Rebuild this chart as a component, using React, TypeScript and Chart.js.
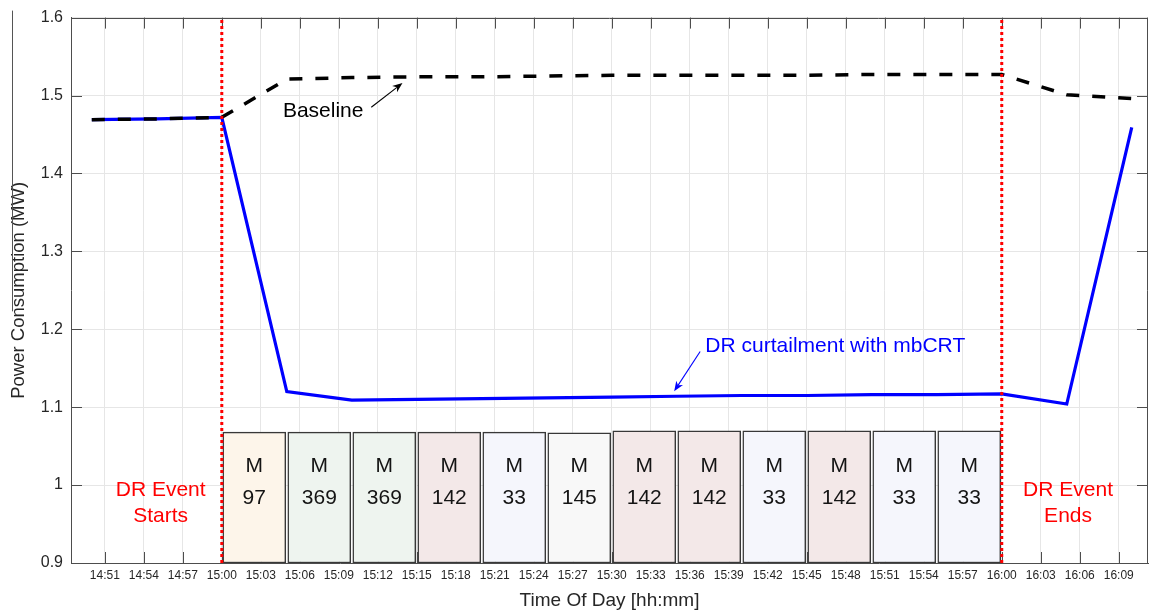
import React, { useEffect, useRef } from "react";
import { Chart, registerables } from "chart.js";

Chart.register(...registerables);

// ---- data (times in minutes since midnight) ----
const timeMinutes = [890, 895, 900, 905, 910, 915, 920, 925, 930, 935, 940, 945, 950, 955, 960, 965, 970];
const baselineMW = [1.469, 1.470, 1.472, 1.521, 1.523, 1.524, 1.524, 1.525, 1.526, 1.526, 1.526, 1.526, 1.527, 1.527, 1.527, 1.501, 1.496];
const mbcrtMW = [1.469, 1.470, 1.472, 1.120, 1.109, 1.110, 1.111, 1.112, 1.113, 1.114, 1.115, 1.115, 1.116, 1.116, 1.117, 1.104, 1.459];

const xTickMinutes = [891, 894, 897, 900, 903, 906, 909, 912, 915, 918, 921, 924, 927, 930, 933, 936, 939, 942, 945, 948, 951, 954, 957, 960, 963, 966, 969];
const yTickValues = [0.9, 1.0, 1.1, 1.2, 1.3, 1.4, 1.5, 1.6];
const xRange = [888.4, 971.25];

const drEventMinutes = [900, 960];

const boxStartMinutes = [900, 905, 910, 915, 920, 925, 930, 935, 940, 945, 950, 955];
const boxMachines = [97, 369, 369, 142, 33, 145, 142, 142, 33, 142, 33, 33];
const boxTopMW = [1.068, 1.068, 1.068, 1.068, 1.068, 1.067, 1.0695, 1.0695, 1.0695, 1.0695, 1.0695, 1.0695];
const boxMinutesWide = 5;

// annotation anchors in data units
const baselineLabel = { x: 907.8, y: 1.480, text: "Baseline" };
const baselineArrow = { x1: 911.5, y1: 1.485, x2: 913.9, y2: 1.516 };
const mbcrtLabel = { x: 937.2, y: 1.1785, text: "DR curtailment with mbCRT" };
const mbcrtArrow = { x1: 936.8, y1: 1.1715, x2: 934.8, y2: 1.1205 };
const eventStartLabel = { x: 895.3, y1: 0.993, y2: 0.960, lines: ["DR Event", "Starts"] };
const eventEndLabel = { x: 965.1, y1: 0.993, y2: 0.960, lines: ["DR Event", "Ends"] };
const boxLetterY = 1.024;
const boxNumberY = 0.983;
const titleRuleEndMW = 1.223;

// ---- styles ----
const machineColor: Record<number, string> = {
  97: "#fdf5ea",
  369: "#eef4ef",
  142: "#f3e8e8",
  33: "#f5f6fc",
  145: "#f8f8f8",
};
const FONT = "'Liberation Sans', Arial, Helvetica, sans-serif";
const AXIS = "#4d4d4d";
const TXT = "#262626";

function fmtTime(m: number) {
  const h = Math.floor(m / 60);
  const mm = Math.round(m - h * 60);
  return `${h}:${mm < 10 ? "0" + mm : mm}`;
}

function drawArrow(ctx: CanvasRenderingContext2D, x1: number, y1: number, x2: number, y2: number, color: string) {
  const ang = Math.atan2(y2 - y1, x2 - x1);
  const L = 10, W = 4, back = 7;
  ctx.save();
  ctx.strokeStyle = color;
  ctx.fillStyle = color;
  ctx.lineWidth = 1.1;
  ctx.beginPath();
  ctx.moveTo(x1, y1);
  ctx.lineTo(x2 - Math.cos(ang) * back, y2 - Math.sin(ang) * back);
  ctx.stroke();
  const bx = x2 - Math.cos(ang) * L, by = y2 - Math.sin(ang) * L;
  const nx = x2 - Math.cos(ang) * back, ny = y2 - Math.sin(ang) * back;
  ctx.beginPath();
  ctx.moveTo(x2, y2);
  ctx.lineTo(bx + Math.sin(ang) * W, by - Math.cos(ang) * W);
  ctx.lineTo(nx, ny);
  ctx.lineTo(bx - Math.sin(ang) * W, by + Math.cos(ang) * W);
  ctx.closePath();
  ctx.fill();
  ctx.restore();
}

const overlayPlugin = {
  id: "overlay",
  beforeDatasetsDraw(chart: any) {
    const { ctx, chartArea: a, scales } = chart;
    const xs = scales.x, ys = scales.y;
    ctx.save();
    ctx.strokeStyle = AXIS;
    ctx.lineWidth = 1;
    ctx.beginPath();
    xTickMinutes.forEach((t) => {
      const px = Math.round(xs.getPixelForValue(t)) + 0.5;
      ctx.moveTo(px, a.bottom);
      ctx.lineTo(px, a.bottom - 11);
      ctx.moveTo(px, a.top);
      ctx.lineTo(px, a.top + 11);
    });
    yTickValues.forEach((v) => {
      const py = Math.round(ys.getPixelForValue(v)) + 0.5;
      ctx.moveTo(a.left, py);
      ctx.lineTo(a.left + 11, py);
      ctx.moveTo(a.right, py);
      ctx.lineTo(a.right - 11, py);
    });
    ctx.stroke();
    ctx.restore();
  },
  afterDatasetsDraw(chart: any) {
    const { ctx, scales } = chart;
    const xs = scales.x, ys = scales.y;
    ctx.save();
    ctx.textAlign = "center";
    ctx.textBaseline = "middle";
    ctx.font = `21px ${FONT}`;
    // box labels
    const barMeta = chart.getDatasetMeta(0);
    barMeta.data.forEach((bar: any, i: number) => {
      ctx.fillStyle = "#141414";
      ctx.fillText("M", bar.x, ys.getPixelForValue(boxLetterY));
      ctx.fillText(String(boxMachines[i]), bar.x, ys.getPixelForValue(boxNumberY));
    });
    // event labels
    ctx.fillStyle = "#ff0000";
    [eventStartLabel, eventEndLabel].forEach((l) => {
      const px = xs.getPixelForValue(l.x);
      ctx.fillText(l.lines[0], px, ys.getPixelForValue(l.y1));
      ctx.fillText(l.lines[1], px, ys.getPixelForValue(l.y2));
    });
    // baseline annotation
    ctx.fillStyle = "#000000";
    ctx.fillText(baselineLabel.text, xs.getPixelForValue(baselineLabel.x), ys.getPixelForValue(baselineLabel.y));
    drawArrow(ctx,
      xs.getPixelForValue(baselineArrow.x1), ys.getPixelForValue(baselineArrow.y1),
      xs.getPixelForValue(baselineArrow.x2), ys.getPixelForValue(baselineArrow.y2), "#000000");
    // mbCRT annotation
    ctx.fillStyle = "#0000ff";
    ctx.textAlign = "left";
    ctx.fillText(mbcrtLabel.text, xs.getPixelForValue(mbcrtLabel.x), ys.getPixelForValue(mbcrtLabel.y));
    drawArrow(ctx,
      xs.getPixelForValue(mbcrtArrow.x1), ys.getPixelForValue(mbcrtArrow.y1),
      xs.getPixelForValue(mbcrtArrow.x2), ys.getPixelForValue(mbcrtArrow.y2), "#0000ff");
    ctx.restore();
  },
  afterDraw(chart: any) {
    const { ctx, chartArea: a } = chart;
    ctx.save();
    ctx.strokeStyle = AXIS;
    ctx.lineWidth = 1;
    ctx.beginPath();
    const top = Math.round(a.top) + 0.5;
    const right = Math.round(a.right) - 0.5;
    ctx.moveTo(a.left, top);
    ctx.lineTo(a.right, top);
    ctx.moveTo(right, a.top);
    ctx.lineTo(right, a.bottom);
    ctx.stroke();
    // thin rule beside the y-axis title, as in the source image
    ctx.strokeStyle = "#555555";
    ctx.beginPath();
    ctx.moveTo(12.5, a.top - 7);
    ctx.lineTo(12.5, chart.scales.y.getPixelForValue(titleRuleEndMW));
    ctx.stroke();
    ctx.restore();
  },
};

export default function App() {
  const ref = useRef<HTMLCanvasElement | null>(null);

  useEffect(() => {
    if (!ref.current) return;
    Chart.defaults.font.family = FONT;
    const chart = new Chart(ref.current, {
      type: "line",
      data: {
        datasets: [
          {
            type: "bar",
            label: "Machines",
            data: boxStartMinutes.map((t, i) => ({ x: t + boxMinutesWide / 2, y: [yTickValues[0], boxTopMW[i]] })) as any,
            backgroundColor: boxMachines.map((m) => machineColor[m]),
            borderColor: "#383838",
            borderWidth: 1.5,
            borderSkipped: false,
            barThickness: 63,
            order: 4,
          } as any,
          {
            label: "DR Event",
            data: drEventMinutes.flatMap((t) => [
              { x: t, y: yTickValues[0] },
              { x: t, y: yTickValues[yTickValues.length - 1] },
              { x: NaN, y: NaN },
            ]),
            borderColor: "#ff0000",
            borderWidth: 3,
            borderDash: [3, 3],
            pointRadius: 0,
            spanGaps: false,
            order: 0,
          },
          {
            label: "Baseline",
            data: timeMinutes.map((t, i) => ({ x: t, y: baselineMW[i] })),
            borderColor: "#000000",
            borderWidth: 3.5,
            borderDash: [13, 13],
            pointRadius: 0,
            tension: 0,
            order: 1,
          },
          {
            label: "DR curtailment with mbCRT",
            data: timeMinutes.map((t, i) => ({ x: t, y: mbcrtMW[i] })),
            borderColor: "#0000ff",
            borderWidth: 3.2,
            pointRadius: 0,
            tension: 0,
            order: 2,
          },
        ],
      },
      options: {
        animation: false,
        responsive: true,
        maintainAspectRatio: false,
        layout: { padding: { top: 15, right: 1, left: 0, bottom: 0 } },
        plugins: { legend: { display: false }, tooltip: { enabled: false } },
        scales: {
          x: {
            type: "linear",
            offset: false,
            min: xRange[0],
            max: xRange[1],
            afterBuildTicks: (s: any) => {
              s.ticks = xTickMinutes.map((v) => ({ value: v }));
            },
            afterFit: (s: any) => {
              s.height = 53;
            },
            ticks: {
              autoSkip: false,
              maxRotation: 0,
              minRotation: 0,
              padding: 5,
              color: TXT,
              font: { size: 12, family: FONT },
              callback: (v: any) => fmtTime(Number(v)),
            },
            grid: { color: "#e6e6e6", lineWidth: 1, drawTicks: false, offset: false },
            border: { display: true, color: AXIS, width: 1 },
            title: {
              display: true,
              text: "Time Of Day [hh:mm]",
              color: TXT,
              font: { size: 19, family: FONT, lineHeight: 1.2 },
              padding: { top: 0, bottom: 4 },
            },
          },
          y: {
            type: "linear",
            min: yTickValues[0],
            max: yTickValues[yTickValues.length - 1],
            afterBuildTicks: (s: any) => {
              s.ticks = yTickValues.map((v) => ({ value: v }));
            },
            afterFit: (s: any) => {
              s.width = 71;
            },
            ticks: {
              padding: 8,
              color: TXT,
              font: { size: 16, family: FONT },
              callback: (v: any) => String(Number(Number(v).toFixed(1))),
            },
            grid: { color: "#e6e6e6", lineWidth: 1, drawTicks: false },
            border: { display: true, color: AXIS, width: 1 },
            title: {
              display: true,
              text: "Power Consumption (MW)",
              color: TXT,
              font: { size: 18.5, family: FONT, lineHeight: 1.2 },
              padding: { top: 8, bottom: 0 },
            },
          },
        },
      },
      plugins: [overlayPlugin],
    });
    return () => chart.destroy();
  }, []);

  return (
    <div style={{ position: "fixed", left: 0, top: 0, width: 1149, height: 616, background: "#ffffff" }}>
      <canvas ref={ref} />
    </div>
  );
}
